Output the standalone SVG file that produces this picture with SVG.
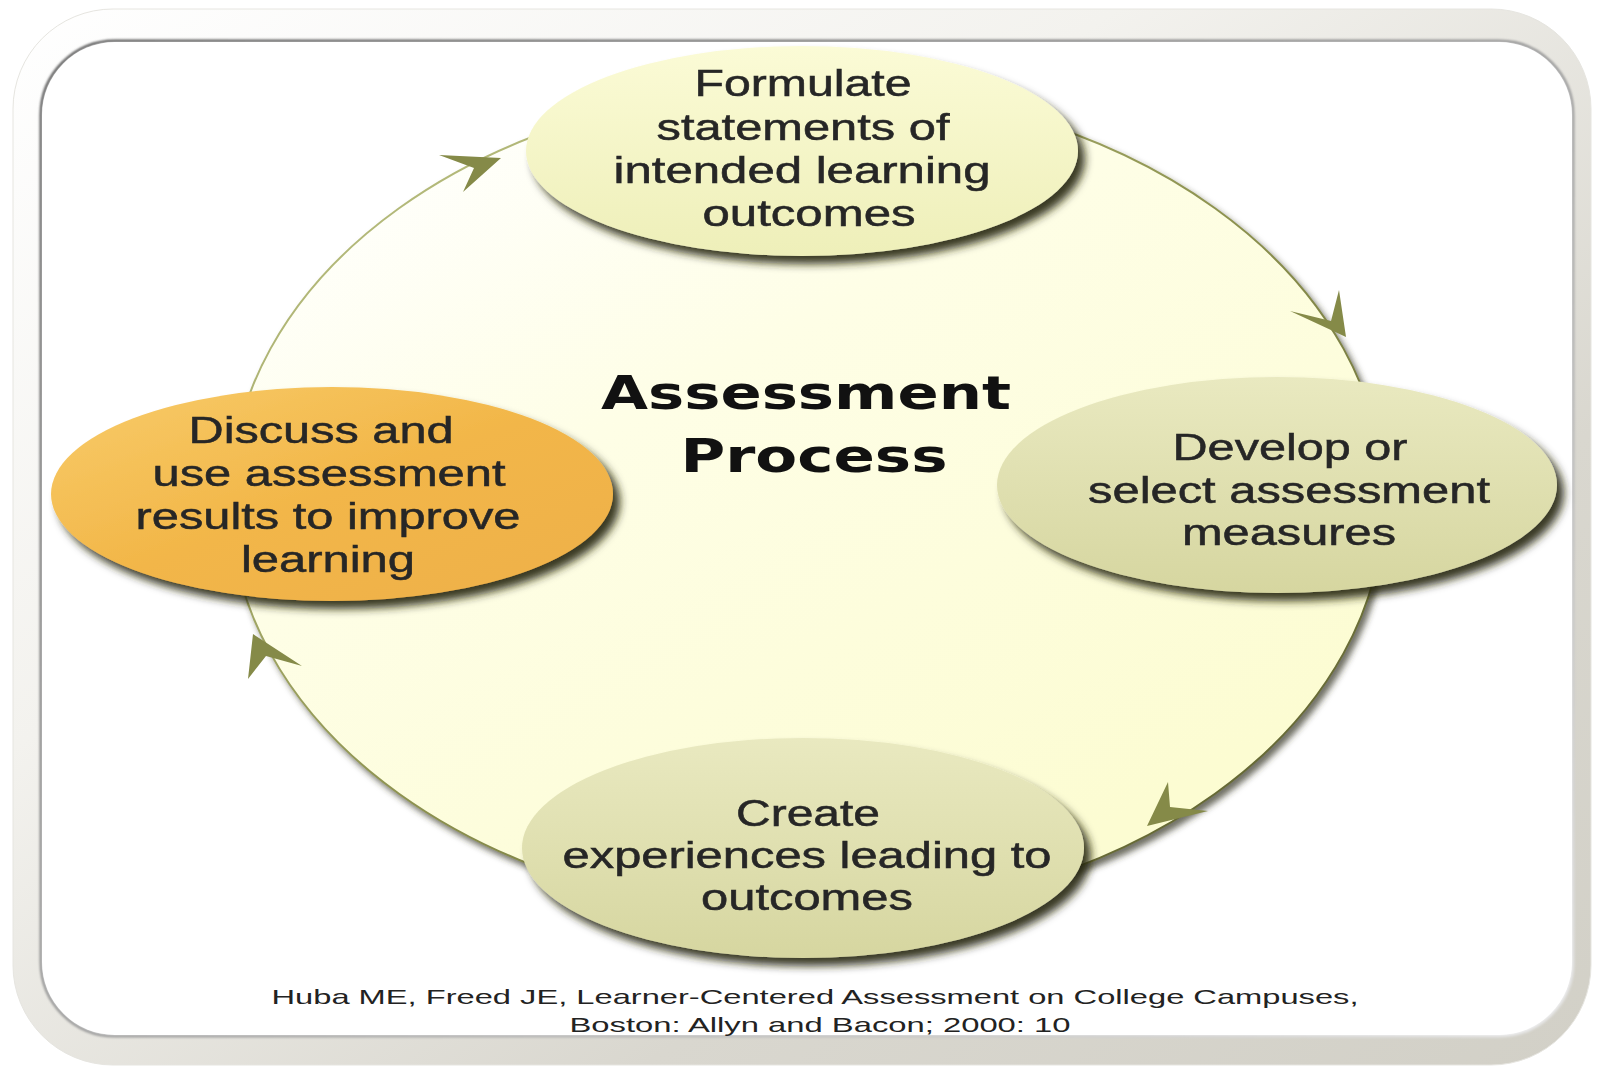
<svg xmlns="http://www.w3.org/2000/svg" width="1602" height="1067" viewBox="0 0 1602 1067">
<defs>
<linearGradient id="frameG" x1="0" y1="0" x2="1" y2="1">
<stop offset="0" stop-color="#ffffff"/>
<stop offset="0.35" stop-color="#f3f2ee"/>
<stop offset="0.7" stop-color="#d9d7cf"/>
<stop offset="1" stop-color="#d2d0c7"/>
</linearGradient>
<linearGradient id="innerStroke" x1="0" y1="0" x2="1" y2="1">
<stop offset="0" stop-color="#5a5a5a"/>
<stop offset="0.5" stop-color="#9a9a9a"/>
<stop offset="1" stop-color="#e8e8e8"/>
</linearGradient>
<linearGradient id="cycleG" x1="0.1" y1="0.05" x2="0.75" y2="0.9">
<stop offset="0" stop-color="#ffffff"/>
<stop offset="0.4" stop-color="#fefee6"/>
<stop offset="1" stop-color="#fcfcd2"/>
</linearGradient>
<linearGradient id="cycleStroke" x1="0" y1="0" x2="1" y2="1">
<stop offset="0" stop-color="#c2c88a"/>
<stop offset="0.5" stop-color="#8e9350"/>
<stop offset="1" stop-color="#55582a"/>
</linearGradient>
<linearGradient id="topG" x1="0" y1="0" x2="0" y2="1">
<stop offset="0" stop-color="#fbfbd6"/>
<stop offset="1" stop-color="#eeefb9"/>
</linearGradient>
<linearGradient id="oliveG" x1="0" y1="0" x2="0" y2="1">
<stop offset="0" stop-color="#e9e9c0"/>
<stop offset="1" stop-color="#d6d6a0"/>
</linearGradient>
<linearGradient id="orangeG" x1="0" y1="0" x2="1" y2="1">
<stop offset="0" stop-color="#f8cc6a"/>
<stop offset="0.5" stop-color="#f2b648"/>
<stop offset="1" stop-color="#eeb048"/>
</linearGradient>
<filter id="nodeShadow" x="-10%" y="-15%" width="125%" height="140%">
<feGaussianBlur in="SourceAlpha" stdDeviation="4"/>
<feOffset dx="7" dy="8" result="b"/>
<feFlood flood-color="#26260e" flood-opacity="0.9"/>
<feComposite in2="b" operator="in" result="s"/>
<feMerge><feMergeNode in="s"/><feMergeNode in="SourceGraphic"/></feMerge>
</filter>
<filter id="cycleShadow" x="-5%" y="-5%" width="112%" height="115%">
<feGaussianBlur in="SourceAlpha" stdDeviation="3"/>
<feOffset dx="4" dy="5" result="b"/>
<feFlood flood-color="#333322" flood-opacity="0.7"/>
<feComposite in2="b" operator="in" result="s"/>
<feMerge><feMergeNode in="s"/><feMergeNode in="SourceGraphic"/></feMerge>
</filter>
<filter id="innerSh" x="-2%" y="-2%" width="104%" height="104%">
<feGaussianBlur stdDeviation="1.2"/>
</filter>
<filter id="soft" x="-5%" y="-20%" width="110%" height="140%">
<feGaussianBlur stdDeviation="0.6"/>
</filter>
</defs>
<style>
.lbl{font-family:"Liberation Sans",Arial,sans-serif;font-size:36px;fill:#262626;stroke:#262626;stroke-width:0.5;text-anchor:middle}
.ttl{font-family:"DejaVu Sans","Liberation Sans",sans-serif;font-weight:bold;font-size:47px;fill:#111;text-anchor:middle}
.cite{font-family:"Liberation Sans",Arial,sans-serif;font-size:21px;fill:#222;text-anchor:middle}
.arrowhead{fill:#858a48}
</style>

<rect x="0" y="0" width="1602" height="1067" fill="#ffffff"/>

<g id="frame">
<rect x="13" y="9" width="1578" height="1056" rx="100" ry="100" fill="url(#frameG)" stroke="#e6e5e0" stroke-width="1"/>
<rect x="41" y="41" width="1532" height="995" rx="74" ry="74" fill="#ffffff" stroke="url(#innerStroke)" stroke-width="3" filter="url(#innerSh)"/>
<rect x="42" y="42" width="1530" height="993" rx="73" ry="73" fill="#ffffff"/>
</g>

<g id="cycle">
<ellipse cx="807" cy="501" rx="577" ry="414" fill="url(#cycleG)" stroke="url(#cycleStroke)" stroke-width="2" filter="url(#cycleShadow)"/>
</g>

<g id="connectors">
<polygon class="arrowhead" points="439,155 501,158 463,192 474,168"/>
<polygon class="arrowhead" points="1290,311 1346,337 1339,290 1331,321"/>
<polygon class="arrowhead" points="1168,782 1147,826 1208,811 1170,807"/>
<polygon class="arrowhead" points="253,634 302,666 266,656 248,679"/>
</g>

<g id="title">
<text class="ttl" x="806" y="409" textLength="410" lengthAdjust="spacingAndGlyphs">Assessment</text>
<text class="ttl" x="814" y="472" textLength="267" lengthAdjust="spacingAndGlyphs">Process</text>
</g>

<g id="node-formulate">
<ellipse cx="802" cy="151" rx="276" ry="105" fill="url(#topG)" filter="url(#nodeShadow)"/>
<g filter="url(#soft)">
<text class="lbl" transform="translate(803,96) scale(1.37,1)" textLength="158.4" lengthAdjust="spacingAndGlyphs">Formulate</text>
<text class="lbl" transform="translate(803,140) scale(1.37,1)" textLength="213.9" lengthAdjust="spacingAndGlyphs">statements of</text>
<text class="lbl" transform="translate(802,183) scale(1.37,1)" textLength="275.2" lengthAdjust="spacingAndGlyphs">intended learning</text>
<text class="lbl" transform="translate(809,226) scale(1.37,1)" textLength="155.5" lengthAdjust="spacingAndGlyphs">outcomes</text>
</g>
</g>

<g id="node-develop">
<ellipse cx="1277" cy="485" rx="280" ry="108" fill="url(#oliveG)" filter="url(#nodeShadow)"/>
<g filter="url(#soft)">
<text class="lbl" transform="translate(1290,460) scale(1.37,1)" textLength="171.5" lengthAdjust="spacingAndGlyphs">Develop or</text>
<text class="lbl" transform="translate(1289,503) scale(1.37,1)" textLength="293.4" lengthAdjust="spacingAndGlyphs">select assessment</text>
<text class="lbl" transform="translate(1289,545) scale(1.37,1)" textLength="156.2" lengthAdjust="spacingAndGlyphs">measures</text>
</g>
</g>

<g id="node-create">
<ellipse cx="803" cy="848" rx="281" ry="110" fill="url(#oliveG)" filter="url(#nodeShadow)"/>
<g filter="url(#soft)">
<text class="lbl" transform="translate(808,826) scale(1.37,1)" textLength="105.1" lengthAdjust="spacingAndGlyphs">Create</text>
<text class="lbl" transform="translate(807,868) scale(1.37,1)" textLength="356.9" lengthAdjust="spacingAndGlyphs">experiences leading to</text>
<text class="lbl" transform="translate(807,910) scale(1.37,1)" textLength="154.7" lengthAdjust="spacingAndGlyphs">outcomes</text>
</g>
</g>

<g id="node-discuss">
<ellipse cx="332" cy="494" rx="281" ry="107" fill="url(#orangeG)" filter="url(#nodeShadow)"/>
<g filter="url(#soft)">
<text class="lbl" transform="translate(321,443) scale(1.37,1)" textLength="193.4" lengthAdjust="spacingAndGlyphs">Discuss and</text>
<text class="lbl" transform="translate(329,486) scale(1.37,1)" textLength="257.7" lengthAdjust="spacingAndGlyphs">use assessment</text>
<text class="lbl" transform="translate(328,529) scale(1.37,1)" textLength="281" lengthAdjust="spacingAndGlyphs">results to improve</text>
<text class="lbl" transform="translate(328,572) scale(1.37,1)" textLength="127" lengthAdjust="spacingAndGlyphs">learning</text>
</g>
</g>

<g id="citation">
<text class="cite" x="815" y="1004" textLength="1087" lengthAdjust="spacingAndGlyphs">Huba ME, Freed JE, Learner-Centered Assessment on College Campuses,</text>
<text class="cite" x="820" y="1032" textLength="501" lengthAdjust="spacingAndGlyphs">Boston: Allyn and Bacon; 2000: 10</text>
</g>
</svg>
